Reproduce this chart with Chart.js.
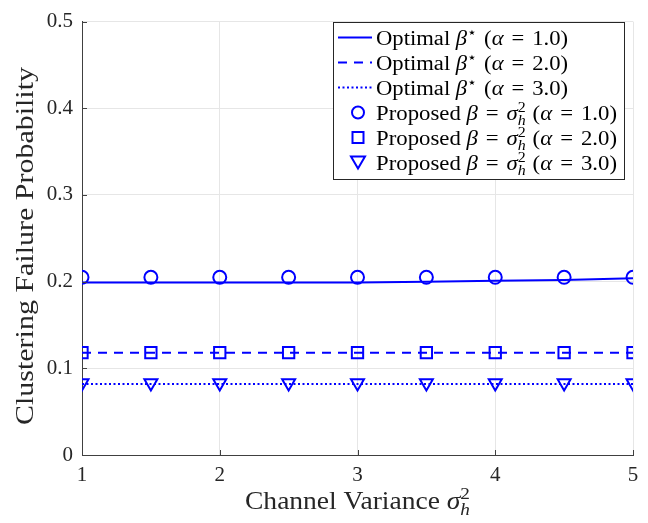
<!DOCTYPE html>
<html>
<head>
<meta charset="utf-8">
<script src="https://cdn.jsdelivr.net/npm/chart.js@4"></script>
<style>
  html, body { margin: 0; padding: 0; background: #fff; }
  #wrap { width: 648px; height: 523px; }
</style>
</head>
<body>
<div id="wrap"><canvas id="chart" width="648" height="523"></canvas></div>
<script>
// Data
const xValues = [1, 1.5, 2, 2.5, 3, 3.5, 4, 4.5, 5];
const optimalA1 = [0.199, 0.199, 0.199, 0.199, 0.199, 0.2, 0.201, 0.202, 0.204];
const optimalA2 = [0.118, 0.118, 0.118, 0.118, 0.118, 0.118, 0.118, 0.118, 0.118];
const optimalA3 = [0.082, 0.082, 0.082, 0.082, 0.082, 0.082, 0.082, 0.082, 0.082];
const proposedA1 = [0.205, 0.205, 0.205, 0.205, 0.205, 0.205, 0.205, 0.205, 0.205];
const proposedA2 = [0.118, 0.118, 0.118, 0.118, 0.118, 0.118, 0.118, 0.118, 0.118];
const proposedA3 = [0.083, 0.083, 0.083, 0.083, 0.083, 0.083, 0.083, 0.083, 0.083];
const alphas = ['1.0', '2.0', '3.0'];
const xTicks = [1, 2, 3, 4, 5];
const yTicks = [0, 0.1, 0.2, 0.3, 0.4, 0.5];

const BLUE = '#0000ff';
const INK = '#262626';
const SERIF = '"Liberation Serif", "DejaVu Serif", serif';

const pts = arr => arr.map((y, i) => ({ x: xValues[i], y }));

function lineSet(data, dash) {
  return {
    data: pts(data), showLine: true, borderColor: BLUE, borderWidth: 2, borderDash: dash,
    pointRadius: 0, fill: false, tension: 0
  };
}
function markerSet(data, style, radius, rotation) {
  return {
    data: pts(data), showLine: false, borderColor: BLUE, backgroundColor: 'rgba(0,0,0,0)',
    borderWidth: 2, pointStyle: style, pointRadius: radius, pointRotation: rotation || 0
  };
}

// rich text pieces: {t, it, sup, sub, stack, gap}
function setFont(ctx, p, size) {
  const s = (p.sup || p.sub) ? size * 0.7 : size;
  ctx.font = (p.it ? 'italic ' : '') + s + 'px ' + SERIF;
}
function richWidth(ctx, parts, size) {
  let w = 0;
  parts.forEach(p => {
    setFont(ctx, p, size);
    if (!(p.sup && p.stack)) w += ctx.measureText(p.t).width + (p.gap || 0) * size;
  });
  return w;
}
// draws stretched horizontally so the run is `width` wide
function richText(ctx, x, y, parts, size, width, rotate) {
  const natural = richWidth(ctx, parts, size);
  const sx = width ? width / natural : 1;
  ctx.save();
  ctx.translate(x, y);
  if (rotate) ctx.rotate(rotate);
  ctx.scale(sx, 1);
  let cx = 0;
  parts.forEach(p => {
    setFont(ctx, p, size);
    let dy = 0;
    if (p.sup) dy = -size * 0.4;
    if (p.sub) dy = size * 0.25;
    ctx.fillText(p.t, cx, dy);
    if (!(p.sup && p.stack)) cx += ctx.measureText(p.t).width + (p.gap || 0) * size;
  });
  ctx.restore();
}

const optimalLabel = a => [
  { t: 'Optimal ' }, { t: 'β', it: true }, { t: '⋆', sup: true, gap: 0.05 }, { t: ' (' },
  { t: 'α', it: true, gap: 0.1 }, { t: ' = ', gap: 0.1 }, { t: a + ')' }
];
const proposedLabel = a => [
  { t: 'Proposed ' }, { t: 'β', it: true, gap: 0.1 }, { t: ' = ', gap: 0.1 },
  { t: 'σ', it: true }, { t: '2', sup: true, stack: true }, { t: 'h', sub: true, it: true, gap: 0.05 },
  { t: ' (' }, { t: 'α', it: true, gap: 0.1 }, { t: ' = ', gap: 0.1 }, { t: a + ')' }
];

const overlay = {
  id: 'overlay',
  afterDraw(chart) {
    const ctx = chart.ctx;
    const area = chart.chartArea;
    const xs = chart.scales.x, ys = chart.scales.y;
    ctx.save();
    // inward ticks
    ctx.strokeStyle = '#404040';
    ctx.lineWidth = 1;
    xTicks.forEach(v => {
      const px = Math.round(xs.getPixelForValue(v)) + 0.5;
      ctx.beginPath(); ctx.moveTo(px, area.bottom); ctx.lineTo(px, area.bottom - 5); ctx.stroke();
    });
    yTicks.forEach(v => {
      const py = Math.round(ys.getPixelForValue(v)) + 0.5;
      ctx.beginPath(); ctx.moveTo(area.left, py); ctx.lineTo(area.left + 5, py); ctx.stroke();
    });

    ctx.fillStyle = INK;
    ctx.textBaseline = 'alphabetic';
    ctx.textAlign = 'left';
    // x axis title
    const xt = [{ t: 'Channel Variance ' }, { t: 'σ', it: true }, { t: '2', sup: true, stack: true }, { t: 'h', sub: true, it: true }];
    richText(ctx, 245, 509, xt, 25, 225);
    // y axis title
    richText(ctx, 33, 425, [{ t: 'Clustering Failure Probability' }], 26, 358, -Math.PI / 2);

    // legend
    const lx = 333.5, ly = 22.5, lw = 291, lh = 157;
    ctx.fillStyle = '#ffffff';
    ctx.fillRect(lx, ly, lw, lh);
    ctx.strokeStyle = INK;
    ctx.strokeRect(lx, ly, lw, lh);
    const rows = [];
    alphas.forEach((a, i) => rows.push({ kind: 'line', dash: [[], [9, 7], [2, 2.5]][i], label: optimalLabel(a), w: 192 }));
    alphas.forEach((a, i) => rows.push({ kind: ['circle', 'rect', 'tri'][i], label: proposedLabel(a), w: 241 }));
    rows.forEach((r, i) => {
      const cy = 37.5 + i * 25;
      ctx.strokeStyle = BLUE;
      ctx.lineWidth = 2;
      if (r.kind === 'line') {
        ctx.setLineDash(r.dash);
        ctx.beginPath(); ctx.moveTo(338, cy); ctx.lineTo(372, cy); ctx.stroke();
        ctx.setLineDash([]);
      } else if (r.kind === 'circle') {
        ctx.beginPath(); ctx.arc(358, cy, 6, 0, Math.PI * 2); ctx.stroke();
      } else if (r.kind === 'rect') {
        ctx.strokeRect(352.5, cy - 5.5, 11, 11);
      } else {
        ctx.beginPath(); ctx.moveTo(351, cy - 6); ctx.lineTo(365, cy - 6); ctx.lineTo(358, cy + 6); ctx.closePath(); ctx.stroke();
      }
      ctx.fillStyle = '#000';
      richText(ctx, 376, cy + 7, r.label, 20, r.w);
    });
    ctx.restore();
  }
};

new Chart(document.getElementById('chart'), {
  type: 'scatter',
  data: {
    datasets: [
      lineSet(optimalA1, []),
      lineSet(optimalA2, [9, 7]),
      lineSet(optimalA3, [2, 2.5]),
      markerSet(proposedA1, 'circle', 6.5),
      markerSet(proposedA2, 'rect', 8),
      markerSet(proposedA3, 'triangle', 7.5, 180)
    ]
  },
  options: {
    responsive: false,
    animation: false,
    layout: { padding: { left: 0, right: 15, top: 15, bottom: 0 } },
    plugins: { legend: { display: false }, tooltip: { enabled: false } },
    scales: {
      x: {
        type: 'linear', min: 1, max: 5,
        afterBuildTicks: s => { s.ticks = xTicks.map(v => ({ value: v })); },
        afterFit: s => { s.height = 68; },
        grid: { color: '#e6e6e6', drawTicks: false },
        border: { color: '#404040', width: 1 },
        ticks: { color: INK, padding: 8, font: { family: SERIF, size: 21 } }
      },
      y: {
        min: 0, max: 0.5,
        afterBuildTicks: s => { s.ticks = yTicks.map(v => ({ value: v })); },
        afterFit: s => { s.width = 82; },
        grid: { color: '#e6e6e6', drawTicks: false },
        border: { color: '#404040', width: 1 },
        ticks: {
          color: INK, padding: 9, font: { family: SERIF, size: 21 },
          callback: v => (v === 0 ? '0' : v.toFixed(1))
        }
      }
    }
  },
  plugins: [overlay]
});
</script>
</body>
</html>
